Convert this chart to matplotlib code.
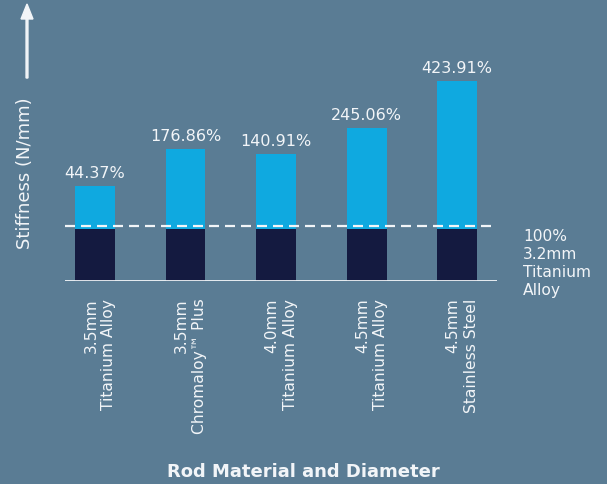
import matplotlib.pyplot as plt
from matplotlib.patches import FancyArrow
from matplotlib.transforms import ScaledTranslation

plt.rcParams["font.family"] = ["DejaVu Sans"]

# data (heights relative, 100 = 3.2mm titanium reference)
materials = [
    "3.5mm\nTitanium Alloy",
    "3.5mm\nChromaloy\u2122 Plus",
    "4.0mm\nTitanium Alloy",
    "4.5mm\nTitanium Alloy",
    "4.5mm\nStainless Steel",
]
heights = [183, 254, 244, 294, 385]
pct_labels = ["44.37%", "176.86%", "140.91%", "245.06%", "423.91%"]
reference = 100
ref_label = "100%\n3.2mm\nTitanium\nAlloy"

bg = "#5a7c94"
light = "#0fa9e0"
dark = "#141a40"
white = "#f2f5f8"

fig = plt.figure(figsize=(6.07, 4.85), dpi=100, facecolor=bg)
ax = fig.add_axes([65 / 607, 203 / 485, 432 / 607, 222 / 485])
ax.set_facecolor(bg)

x = list(range(len(materials)))
ax.bar(x, heights, width=0.44, color=light, zorder=2)
ax.bar(x, [reference] * len(x), width=0.44, color=dark, zorder=3)

# reference dashed line sits a touch above the dark block
ax.axhline(reference + 5, color=white, lw=1.6, dashes=(4.5, 2.7), zorder=4)
ax.axhline(0, color=white, lw=1.3, zorder=4)

for xi, h, lab in zip(x, heights, pct_labels):
    ax.annotate(lab, (xi, h), xytext=(0, 4.5), textcoords="offset points",
                ha="center", va="bottom", color=white, fontsize=11.5)

ax.set_xlim(-0.33, 4.44)
ax.set_ylim(0, 427)
ax.set_yticks([])
ax.set_xticks(x)
ax.set_xticklabels(materials, rotation=90, color=white, fontsize=11.2,
                   multialignment="right", linespacing=1.25)
ax.tick_params(axis="x", length=0, pad=12)
shift = ScaledTranslation(5 / 100, 0, fig.dpi_scale_trans)
for t in ax.get_xticklabels():
    t.set_transform(t.get_transform() + shift)
for s in ax.spines.values():
    s.set_visible(False)

# reference note on the right
fig.text(523 / 607, 1 - 229 / 485, ref_label, ha="left", va="top",
         color=white, fontsize=11.2, linespacing=1.25)

# y axis label with arrow
fig.text(25 / 607, 1 - 173 / 485, "Stiffness (N/mm)", rotation=90,
         ha="center", va="center", color=white, fontsize=13)
fig.patches.append(FancyArrow(
    27 / 607, 1 - 79 / 485, 0, 59 / 485, width=1.5 / 485,
    head_width=12 / 607, head_length=15 / 485, length_includes_head=False,
    color=white, transform=fig.transFigure, figure=fig))

fig.text(0.5, 1 - 472 / 485, "Rod Material and Diameter", ha="center",
         va="center", color=white, fontsize=13, fontweight="bold")

fig.savefig("out.png", dpi=100, facecolor=bg)
